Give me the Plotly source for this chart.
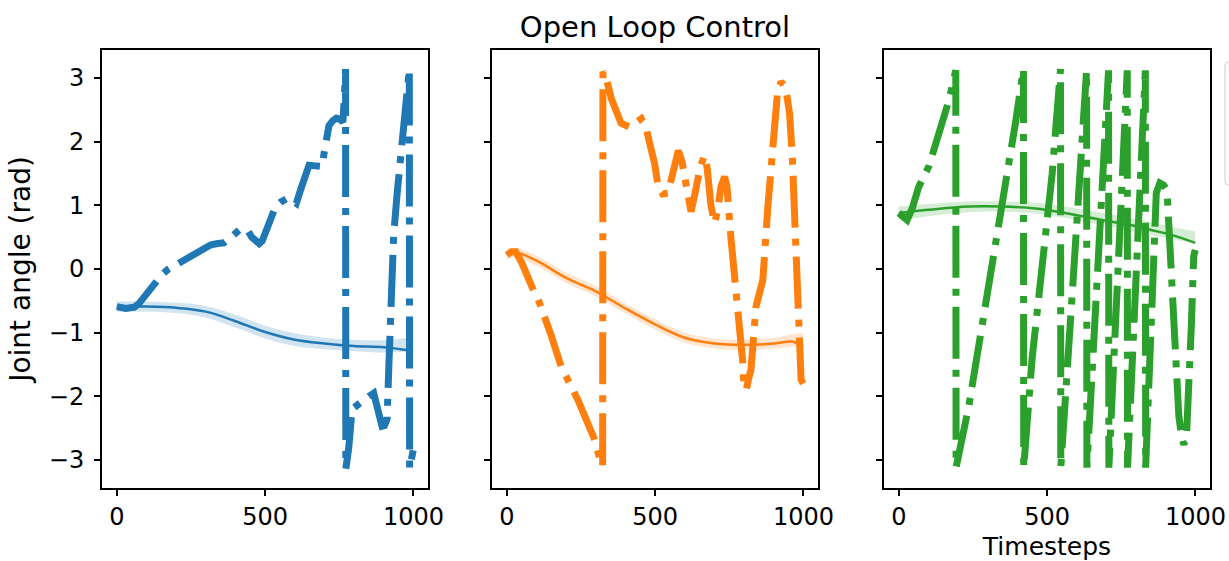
import plotly.graph_objects as go

# ---------------- data ----------------
timesteps_ticks = [0, 500, 1000]
angle_ticks = [-3, -2, -1, 0, 1, 2, 3]

# Joint 1 (blue) open-loop wrapped angle
j1_t = [0, 15, 30, 45, 59, 75, 90, 108, 126, 150, 171, 200, 227, 250, 270, 295, 317, 340, 361,
        385, 412, 430, 440, 455, 470, 480, 490, 505, 520, 535, 552, 575, 590, 605, 620, 635, 648,
        670, 693, 698, 705, 715, 728, 740, 752, 762, 767, 771, 772, 782, 793, 810, 833, 850, 866,
        877, 887, 894, 902, 911, 917, 922, 928, 933, 945, 956, 967, 973, 981, 986, 987, 993, 999]
j1_v = [-0.59, -0.61, -0.62, -0.61, -0.60, -0.54, -0.45, -0.33, -0.22, -0.10, -0.01, 0.07, 0.14,
        0.20, 0.26, 0.33, 0.38, 0.40, 0.41, 0.50, 0.61, 0.63, 0.62, 0.50, 0.42, 0.40, 0.44, 0.62,
        0.85, 0.98, 1.05, 1.11, 1.08, 1.03, 1.25, 1.50, 1.63, 1.62, 1.61, 1.80, 2.05, 2.25, 2.33,
        2.37, 2.35, 2.31, 2.70, 3.14, -3.14, -2.80, -2.20, -2.15, -2.05, -2.00, -1.95, -2.20,
        -2.40, -2.47, -2.46, -2.36, -1.53, -0.85, -0.12, 0.51, 1.19, 1.71, 2.13, 2.65, 3.04, 3.14,
        -3.14, -3.00, -2.85]

# Joint 2 (orange) open-loop wrapped angle
j2_t = [0, 15, 30, 50, 82, 110, 150, 183, 239, 270, 296, 312, 323, 324, 335, 352, 370, 385, 413,
        435, 453, 470, 485, 498, 510, 525, 543, 560, 570, 578, 590, 605, 621, 635, 652, 666, 675,
        688, 700, 710, 722, 734, 742, 756, 773, 790, 795, 799, 803, 808, 814, 823, 840, 850, 863,
        880, 902, 912, 924, 935, 945, 953, 962, 970, 981, 992, 999]
j2_v = [0.22, 0.27, 0.27, 0.10, -0.25, -0.53, -1.05, -1.53, -2.05, -2.40, -2.68, -2.96, -3.10,
        3.10, 3.00, 2.68, 2.45, 2.29, 2.23, 2.30, 2.36, 2.20, 1.95, 1.66, 1.30, 1.18, 1.19, 1.50,
        1.78, 1.86, 1.70, 1.30, 0.90, 1.20, 1.60, 1.78, 1.60, 1.00, 0.72, 0.90, 1.30, 1.45, 1.30,
        0.46, -0.33, -0.95, -1.45, -1.78, -1.90, -1.88, -1.75, -1.58, -0.59, -0.35, -0.17, 0.98,
        2.29, 2.75, 2.94, 2.88, 2.70, 2.45, 1.80, 0.98, -0.38, -1.74, -1.80]

# Joint 3 (green) open-loop wrapped angle
j3_t = [0, 15, 28, 45, 67, 101, 140, 169, 192, 193, 236, 292, 348, 393, 420, 421, 449, 483, 517,
        545, 546, 590, 633, 634, 670, 707, 708, 740, 770, 771, 800, 831, 832, 850, 868, 880, 892,
        904, 925, 944, 954, 961, 970, 977, 986, 994, 999]
j3_v = [0.88, 0.80, 0.77, 0.95, 1.29, 1.61, 2.20, 2.65, 3.12, -3.12, -2.15, -0.59, 0.88, 2.29,
        3.14, -3.12, -1.42, -0.06, 1.50, 3.14, -3.12, 0.00, 3.12, -3.12, 0.00, 3.12, -3.12, 0.00,
        3.12, -3.12, 0.00, 3.12, -3.12, -1.00, 1.20, 1.35, 1.32, 1.24, -0.70, -2.31, -2.65,
        -2.76, -2.60, -2.05, -0.90, 0.20, 0.30]

# Mean trajectories (solid) with shaded band
m1_t = [0, 100, 200, 300, 400, 500, 600, 700, 800, 900, 999]
m1_mean = [-0.59, -0.59, -0.61, -0.67, -0.82, -0.99, -1.11, -1.17, -1.21, -1.23, -1.29]
m1_up = [-0.51, -0.51, -0.53, -0.58, -0.72, -0.89, -1.01, -1.08, -1.11, -1.12, -1.07]
m1_lo = [-0.67, -0.67, -0.69, -0.76, -0.92, -1.09, -1.21, -1.26, -1.29, -1.31, -1.29]

m2_t = [0, 30, 100, 200, 300, 400, 500, 600, 700, 800, 900, 960, 999]
m2_mean = [0.22, 0.26, 0.13, -0.14, -0.35, -0.62, -0.87, -1.08, -1.17, -1.19, -1.17, -1.14, -1.22]
m2_up = [0.30, 0.33, 0.21, -0.06, -0.27, -0.54, -0.79, -1.00, -1.09, -1.11, -1.08, -1.03, -1.00]
m2_lo = [0.14, 0.19, 0.05, -0.22, -0.43, -0.70, -0.95, -1.16, -1.25, -1.27, -1.25, -1.22, -1.20]

m3_t = [0, 100, 236, 350, 461, 560, 685, 780, 854, 930, 999]
m3_mean = [0.88, 0.93, 0.98, 0.98, 0.95, 0.88, 0.77, 0.69, 0.61, 0.52, 0.41]
m3_up = [0.98, 1.02, 1.06, 1.06, 1.04, 0.98, 0.88, 0.80, 0.73, 0.65, 0.59]
m3_lo = [0.76, 0.83, 0.89, 0.90, 0.87, 0.80, 0.69, 0.60, 0.53, 0.46, 0.41]

joint_names = ["Joint 1", "Joint 2", "Joint 3"]
colors = ["#1f77b4", "#ff7f0e", "#2ca02c"]
band_colors = ["rgba(31,119,180,0.2)", "rgba(255,127,14,0.2)", "rgba(44,160,44,0.2)"]

# ---------------- figure ----------------
FONT = "DejaVu Sans"
fig = go.Figure()

panels = [
    (j1_t, j1_v, m1_t, m1_mean, m1_up, m1_lo),
    (j2_t, j2_v, m2_t, m2_mean, m2_up, m2_lo),
    (j3_t, j3_v, m3_t, m3_mean, m3_up, m3_lo),
]
axis_ids = [("x", "y"), ("x2", "y2"), ("x3", "y3")]

for i, (jt, jv, mt, mm, mu, ml) in enumerate(panels):
    xa, ya = axis_ids[i]
    fig.add_trace(go.Scatter(x=mt, y=mu, mode="lines", line=dict(width=0, shape="spline"),
                             xaxis=xa, yaxis=ya, showlegend=False, hoverinfo="skip"))
    fig.add_trace(go.Scatter(x=mt, y=ml, mode="lines", line=dict(width=0, shape="spline"),
                             fill="tonexty", fillcolor=band_colors[i],
                             xaxis=xa, yaxis=ya, showlegend=False, hoverinfo="skip"))
    fig.add_trace(go.Scatter(x=mt, y=mm, mode="lines",
                             line=dict(color=colors[i], width=2.5, shape="spline"),
                             xaxis=xa, yaxis=ya, showlegend=False))
    fig.add_trace(go.Scatter(x=jt, y=jv, mode="lines", name=joint_names[i],
                             line=dict(color=colors[i], width=7, dash="52px,11px,7px,11px"),
                             xaxis=xa, yaxis=ya, showlegend=False))

L, R, T, B = 102, 19, 50, 73
W, H = 1229, 561
pw = W - L - R
ph = H - T - B
domains = [[0, (428 - L) / pw], [(492 - L) / pw, (818 - L) / pw], [(884 - L) / pw, 1.0]]


def px_x(v):
    return (v - L) / pw


def px_y(v):
    return 1 - (v - T) / ph


axis_common = dict(showline=True, linecolor="black", linewidth=2, mirror=True,
                   ticks="outside", ticklen=6, tickwidth=1.5, tickcolor="black",
                   showgrid=False, zeroline=False,
                   tickfont=dict(family=FONT, size=24, color="black"))

# partially visible legend frame at the right edge (cut off, as in the reference)
lx0, lx1, ly0, ly1, rr = 1225, 1270, 62, 185, 4
legend_path = (
    f"M {px_x(lx1)},{px_y(ly0)} L {px_x(lx0 + rr)},{px_y(ly0)} "
    f"Q {px_x(lx0)},{px_y(ly0)} {px_x(lx0)},{px_y(ly0 + rr)} "
    f"L {px_x(lx0)},{px_y(ly1 - rr)} Q {px_x(lx0)},{px_y(ly1)} {px_x(lx0 + rr)},{px_y(ly1)} "
    f"L {px_x(lx1)},{px_y(ly1)}"
)

layout = dict(
    width=W, height=H,
    margin=dict(l=L, r=R, t=T, b=B, autoexpand=False),
    paper_bgcolor="white", plot_bgcolor="white",
    font=dict(family=FONT, color="black"),
    showlegend=False,
    title=dict(text="Open Loop Control", x=((492 + 818) / 2) / W, xanchor="center",
               y=1 - 27 / H, yanchor="middle", font=dict(size=29, family=FONT, color="black")),
    shapes=[dict(type="path", path=legend_path, xref="paper", yref="paper",
                 line=dict(color="#d5d5d5", width=1.2), fillcolor="white", layer="above")],
)
for i in range(3):
    sx = "" if i == 0 else str(i + 1)
    layout["xaxis" + sx] = dict(axis_common, domain=domains[i], range=[-50, 1049],
                                tickvals=timesteps_ticks, anchor="y" + sx)
    yax = dict(axis_common, domain=[0, 1], range=[-3.44, 3.44], tickvals=angle_ticks,
               anchor="x" + sx, showticklabels=(i == 0), ticklabelstandoff=5)
    if i > 0:
        yax["matches"] = "y"
    layout["yaxis" + sx] = yax

layout["yaxis"]["title"] = dict(text="Joint angle (rad)", font=dict(size=28, family=FONT),
                                standoff=10)
layout["xaxis3"]["title"] = dict(text="Timesteps", font=dict(size=25, family=FONT), standoff=9)

fig.update_layout(**layout)
fig.write_html("out.html", config={"displayModeBar": False},
               post_script="document.body.style.margin='0';document.body.style.overflow='hidden';")
